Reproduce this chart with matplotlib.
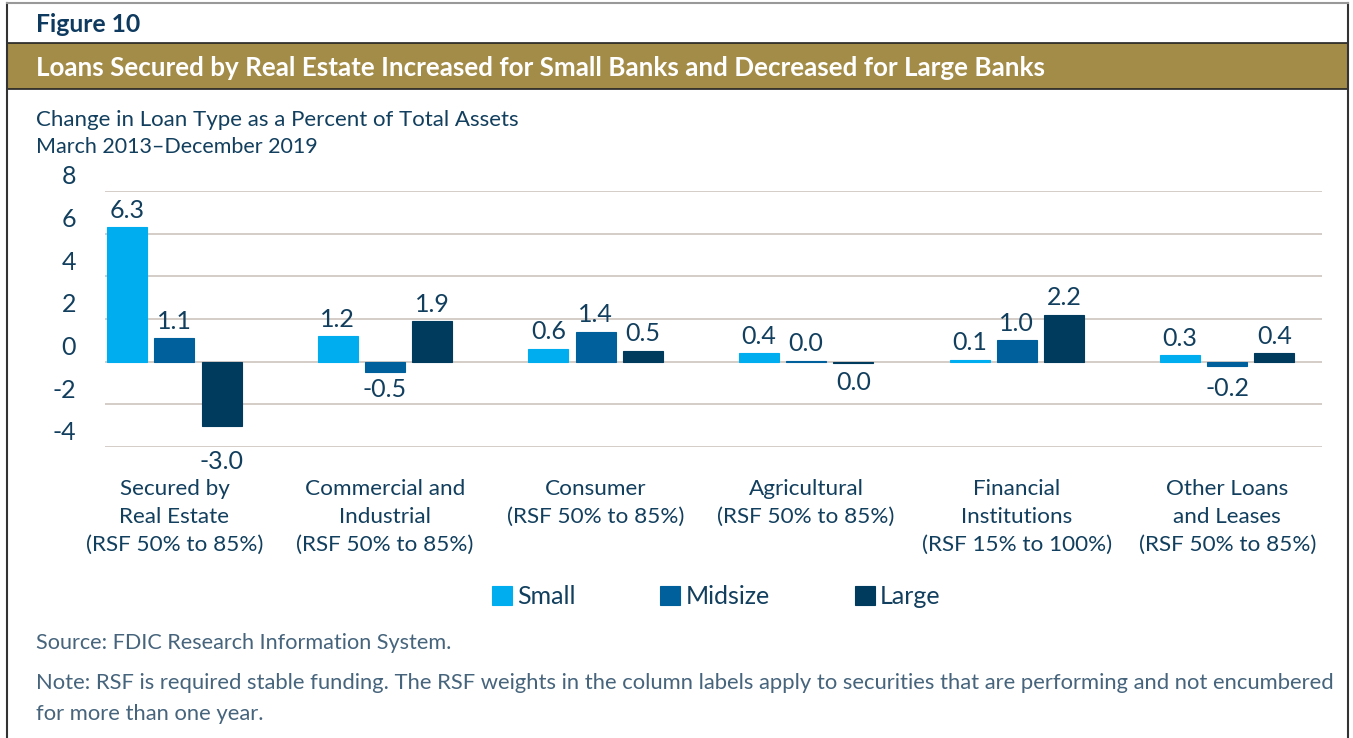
import matplotlib.pyplot as plt
import matplotlib.transforms as mtransforms
from matplotlib.patches import Rectangle
from matplotlib.lines import Line2D
import numpy as np

plt.rcParams['font.family'] = ['Lato', 'DejaVu Sans']

# data
categories = ["Secured by\nReal Estate\n(RSF 50% to 85%)",
              "Commercial and\nIndustrial\n(RSF 50% to 85%)",
              "Consumer\n(RSF 50% to 85%)",
              "Agricultural\n(RSF 50% to 85%)",
              "Financial\nInstitutions\n(RSF 15% to 100%)",
              "Other Loans\nand Leases\n(RSF 50% to 85%)"]
series = ["Small", "Midsize", "Large"]
small = [6.3, 1.2, 0.6, 0.4, 0.1, 0.3]
midsize = [1.1, -0.5, 1.4, 0.04, 1.0, -0.2]
large = [-3.0, 1.9, 0.5, -0.04, 2.2, 0.4]
yticks = [-4, -2, 0, 2, 4, 6, 8]

colors = ["#00aeef", "#00609c", "#003a5c"]
navy = "#123f5e"
gold = "#a38b48"
grid_c = "#cdc3be"

# gap (px) below the bar end for the labels of negative bars, as in the original
neg_gap = {(2, 0): 36, (1, 1): 17, (1, 5): 23, (2, 3): 20}

W, H = 1353, 738
fig = plt.figure(figsize=(W / 100, H / 100), dpi=100)


def fx(x):
    return x / W


def fy(y):
    return 1 - y / H


# frame and header
fig.add_artist(Line2D([fx(7), fx(7)], [fy(3), fy(738)], color="#333333", lw=1.5))
fig.add_artist(Line2D([fx(1348), fx(1348)], [fy(3), fy(738)], color="#333333", lw=1.5))
fig.add_artist(Line2D([fx(7), fx(1348)], [fy(3), fy(3)], color="#999999", lw=1.5))
fig.add_artist(Rectangle((fx(7), fy(89)), fx(1341), 46 / H, facecolor=gold,
                         edgecolor="#222222", lw=1.2))
fig.text(fx(36), fy(25), "Figure 10", fontsize=17.8, fontweight="bold", color="#0f3a5f",
         va="center", ha="left")
fig.text(fx(36), fy(68), "Loans Secured by Real Estate Increased for Small Banks and Decreased for Large Banks",
         fontsize=18.7, fontweight="bold", color="white", va="center", ha="left")
fig.text(fx(36), fy(120), "Change in Loan Type as a Percent of Total Assets", fontsize=16,
         color=navy, va="center", ha="left")
fig.text(fx(36), fy(147), "March 2013\u2013December 2019", fontsize=15.5,
         color=navy, va="center", ha="left")

# axes
ax = fig.add_axes([fx(105), fy(447), fx(1322 - 105), (447 - 191) / H])
x = np.arange(len(categories))
bw = 0.19
off = 0.224
all_vals = [small, midsize, large]
containers = []
for i, vals in enumerate(all_vals):
    bars = ax.bar(x + (i - 1) * off, vals, width=bw, color=colors[i],
                  edgecolor=colors[i], lw=0.8, zorder=3, label=series[i])
    containers.append(bars)
    for j, (xi, v) in enumerate(zip(x + (i - 1) * off, vals)):
        lab = f"{round(v, 1) + 0.0:.1f}"
        if v >= 0:
            ax.annotate(lab, (xi, v), xytext=(0, 4), textcoords="offset points",
                        ha="center", va="bottom", fontsize=18, color=navy, annotation_clip=False)
        else:
            gap = neg_gap.get((i, j), 18) * 0.72
            ax.annotate(lab, (xi, v), xytext=(0, -gap), textcoords="offset points",
                        ha="center", va="center", fontsize=18, color=navy, annotation_clip=False)

ax.set_xlim(-0.33, 5.45)
ax.set_ylim(-4, 8)
ax.set_yticks(yticks)
ax.yaxis.grid(True, color=grid_c, lw=1.2, zorder=0)
ax.set_yticklabels([])
ax.tick_params(length=0)
ax.set_xticks([])
for s in ax.spines.values():
    s.set_visible(False)

# y labels sit above their gridlines
trans = mtransforms.offset_copy(ax.get_yaxis_transform(), fig=fig, x=-29, y=14, units="dots")
for t in yticks:
    ax.text(0, t, f"{t}", transform=trans, ha="right", va="center", fontsize=18, color=navy)

# category labels
for xi, c in zip(x, categories):
    ax.annotate(c, (xi, -4), xytext=(0, -23), textcoords="offset points", ha="center",
                va="top", fontsize=16.2, color=navy, linespacing=1.5, annotation_clip=False)

leg = fig.legend(handles=containers, labels=series, loc="center",
                 bbox_to_anchor=(fx(716), fy(597)), ncol=3, frameon=False, fontsize=18,
                 handlelength=0.8, handleheight=0.8, handletextpad=0.2, columnspacing=3.4)
for t in leg.get_texts():
    t.set_color(navy)

src_c = "#46647c"
fig.text(fx(36), fy(643), "Source: FDIC Research Information System.", fontsize=15.6,
         color=src_c, va="center", ha="left")
fig.text(fx(36), fy(683), "Note: RSF is required stable funding. The RSF weights in the column labels apply to securities that are performing and not encumbered",
         fontsize=15.8, color=src_c, va="center", ha="left")
fig.text(fx(36), fy(714), "for more than one year.", fontsize=15.8,
         color=src_c, va="center", ha="left")

fig.savefig("out.png", dpi=100)
